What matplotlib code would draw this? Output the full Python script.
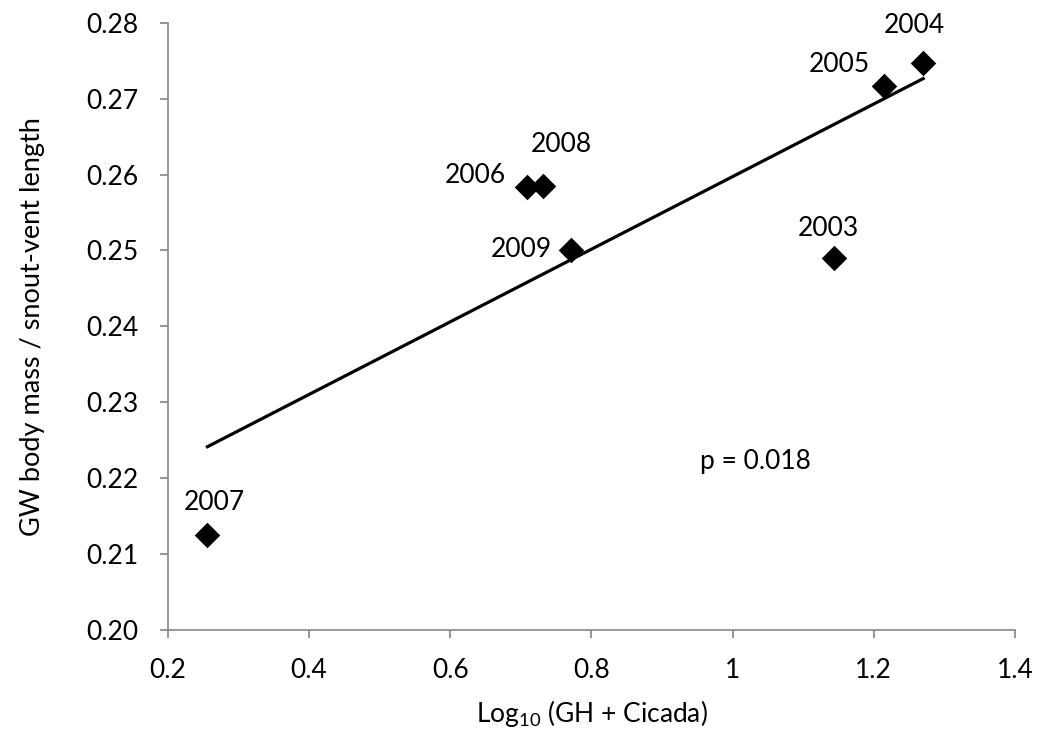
import numpy as np
import matplotlib
matplotlib.use("Agg")
import matplotlib.pyplot as plt

# values
years = ["2003", "2004", "2005", "2006", "2007", "2008", "2009"]
log_food = [1.143, 1.270, 1.215, 0.708, 0.256, 0.732, 0.771]
mass_ratio = [0.2490, 0.2747, 0.2717, 0.2583, 0.2125, 0.2585, 0.2501]
x_ticks = [0.2, 0.4, 0.6, 0.8, 1.0, 1.2, 1.4]
x_tick_labels = ["0.2", "0.4", "0.6", "0.8", "1", "1.2", "1.4"]
y_ticks = [0.20, 0.21, 0.22, 0.23, 0.24, 0.25, 0.26, 0.27, 0.28]
p_text = "p = 0.018"

# label offsets from the marker in points (dx, dy to baseline, ha)
label_pos = {
    "2003": (-3.7, 15.6, "center"),
    "2004": (-6.3, 21.3, "center"),
    "2005": (-10.8, 9.6, "right"),
    "2006": (-15.0, 2.9, "right"),
    "2007": (4.9, 18.0, "center"),
    "2008": (12.6, 24.2, "center"),
    "2009": (-13.7, -5.0, "right"),
}

plt.rcParams["font.family"] = ["Lato", "DejaVu Sans"]
plt.rcParams["mathtext.default"] = "regular"
AXIS_GREY = "#868686"
FS = 19

fig = plt.figure(figsize=(10.38, 7.37), dpi=100)
ax = fig.add_axes([0.1618, 0.1452, 0.8160, 0.8240])

x = np.array(log_food)
y = np.array(mass_ratio)
ax.scatter(x, y, marker="D", s=13 ** 2, color="black", zorder=3, linewidths=0)

# linear trendline over the data range
k, b = np.polyfit(x, y, 1)
xs = np.array([x.min(), x.max()])
ax.plot(xs, k * xs + b, color="black", lw=2.3, zorder=2)

for yr, xv, yv in zip(years, log_food, mass_ratio):
    dx, dy, ha = label_pos[yr]
    ax.annotate(yr, (xv, yv), xytext=(dx, dy), textcoords="offset points",
                ha=ha, va="baseline", fontsize=FS)

ax.text(1.0317, 0.22116, p_text, ha="center", va="baseline", fontsize=FS)

ax.set_xlim(0.2, 1.4)
ax.set_ylim(0.20, 0.28)
ax.set_xticks(x_ticks)
ax.set_xticklabels(x_tick_labels)
ax.set_yticks(y_ticks)
ax.set_yticklabels([f"{v:.2f}" for v in y_ticks])
ax.tick_params(axis="both", direction="out", length=6, width=1.2,
               color=AXIS_GREY, labelsize=FS)
ax.tick_params(axis="x", pad=14)
ax.tick_params(axis="y", pad=15)
for side in ("top", "right"):
    ax.spines[side].set_visible(False)
for side in ("left", "bottom"):
    ax.spines[side].set_color(AXIS_GREY)
    ax.spines[side].set_linewidth(1.2)

ax.set_xlabel("Log$_{10}$ (GH + Cicada)", fontsize=FS, labelpad=11)
ax.set_ylabel("GW body mass / snout-vent length", fontsize=FS + 0.5, labelpad=30)

fig.savefig("out.png", dpi=100)
